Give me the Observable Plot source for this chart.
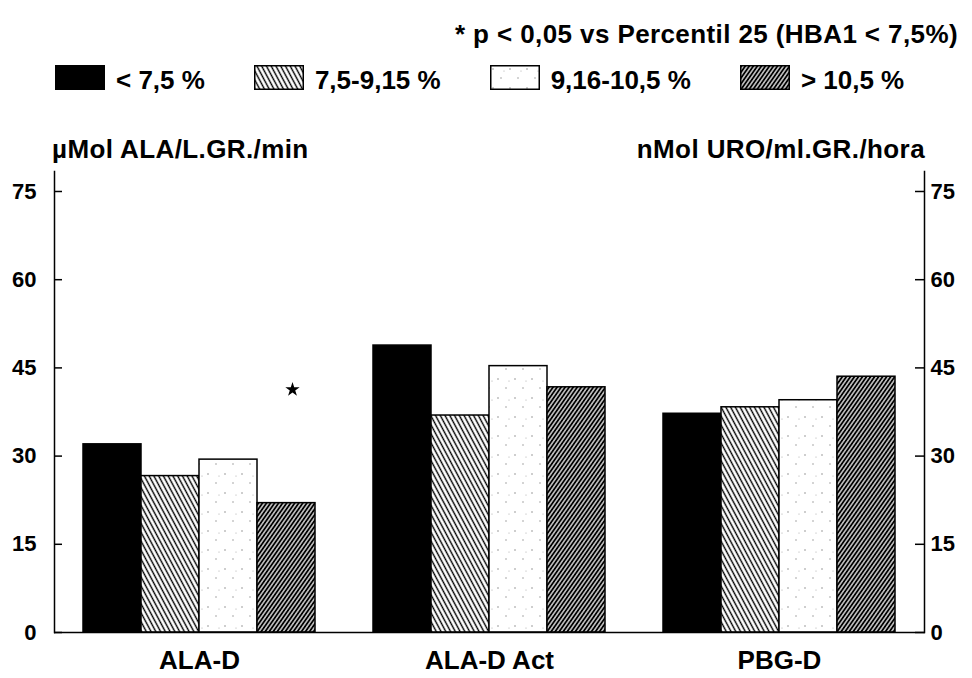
<!DOCTYPE html>
<html>
<head>
<meta charset="utf-8">
<script src="https://cdn.jsdelivr.net/npm/d3@7"></script>
<script src="https://cdn.jsdelivr.net/npm/@observablehq/plot@0.6"></script>
<style>
  html, body { margin: 0; padding: 0; background: #fff; }
  body { font-family: "Liberation Sans", Arial, sans-serif; font-weight: bold; color: #000; }
  #wrap { position: relative; width: 972px; height: 678px; overflow: hidden; }
  #note { position: absolute; right: 14px; top: 19px; font-size: 26px; letter-spacing: 0.4px; white-space: pre; }
  #legend { position: absolute; left: 55px; top: 65px; display: flex; gap: 49px; }
  #legend .item { display: flex; align-items: flex-start; }
  #legend svg { display: block; }
  #legend span { font-size: 26px; line-height: 25px; margin-left: 11px; position: relative; top: 3px; white-space: pre; }
  .ytitle { position: absolute; top: 134px; font-size: 26px; letter-spacing: 0.4px; white-space: pre; }
  #ytl { left: 52px; }
  #ytr { right: 47px; }
  #chart { position: absolute; left: 0; top: 166px; }
</style>
</head>
<body>
<svg width="0" height="0" style="position:absolute">
  <defs>
    <pattern id="p-light" width="4.2" height="10" patternUnits="userSpaceOnUse" patternTransform="rotate(-28)">
      <rect width="4.2" height="10" fill="#fff"/>
      <line x1="2.1" y1="0" x2="2.1" y2="10" stroke="#000" stroke-width="1.4"/>
    </pattern>
    <pattern id="p-dark" width="3.3" height="10" patternUnits="userSpaceOnUse" patternTransform="rotate(35)">
      <rect width="3.3" height="10" fill="#fff"/>
      <line x1="1.65" y1="0" x2="1.65" y2="10" stroke="#000" stroke-width="2.1"/>
    </pattern>
    <pattern id="p-dots" width="17" height="19" patternUnits="userSpaceOnUse">
      <rect width="17" height="19" fill="#fff"/>
      <circle cx="3" cy="4" r="0.7" fill="#777"/>
      <circle cx="11" cy="13" r="0.7" fill="#888"/>
      <circle cx="14" cy="6" r="0.5" fill="#999"/>
    </pattern>
  </defs>
</svg>
<div id="wrap">
  <div id="note"></div>
  <div id="legend"></div>
  <div class="ytitle" id="ytl"></div>
  <div class="ytitle" id="ytr"></div>
  <div id="chart"></div>
</div>
<script>
// ---- data ----
const groups = ["ALA-D", "ALA-D Act", "PBG-D"];
const series = ["< 7,5 %", "7,5-9,15 %", "9,16-10,5 %", "> 10,5 %"];
const alaD    = [32.0, 26.6, 29.4, 22.0];
const alaDAct = [48.8, 36.9, 45.3, 41.7];
const pbgD    = [37.2, 38.3, 39.5, 43.5];
const yTicks  = [0, 15, 30, 45, 60, 75];
const significant = [{group: "ALA-D", series: "> 10,5 %", value: 41.3}];
const noteText   = "* p < 0,05 vs Percentil 25 (HBA1 < 7,5%)";
const leftTitle  = "µMol ALA/L.GR./min";
const rightTitle = "nMol URO/ml.GR./hora";
const fills = ["#000", "url(#p-light)", "url(#p-dots)", "url(#p-dark)"];

const values = [alaD, alaDAct, pbgD];
const data = groups.flatMap((g, gi) => series.map((s, si) => ({group: g, series: s, value: values[gi][si]})));

// ---- header texts ----
document.getElementById("note").textContent = noteText;
document.getElementById("ytl").textContent = leftTitle;
document.getElementById("ytr").textContent = rightTitle;

// ---- legend ----
const legend = d3.select("#legend");
series.forEach((s, i) => {
  const item = legend.append("div").attr("class", "item");
  item.append("svg").attr("width", 50).attr("height", 25)
    .append("rect").attr("x", 0.75).attr("y", 0.75).attr("width", 48.5).attr("height", 23.5)
    .attr("fill", fills[i]).attr("stroke", "#000").attr("stroke-width", 1.5);
  item.append("span").text(s);
});

// ---- chart ----
const chart = Plot.plot({
  width: 972,
  height: 512,
  marginTop: 5,
  marginRight: 48,
  marginBottom: 46,
  marginLeft: 53,
  style: {fontFamily: '"Liberation Sans", Arial, sans-serif', fontWeight: "bold", color: "#000", background: "transparent", overflow: "visible"},
  fx: {domain: groups, padding: 0, label: null},
  x: {domain: series, paddingInner: 0, paddingOuter: 0.478, axis: null},
  y: {domain: [0, 78.4], label: null},
  color: {domain: series, range: fills},
  marks: [
    Plot.barY(data, {fx: "group", x: "series", y: "value", fill: "series", stroke: "#000", strokeWidth: 1.5}),
    Plot.ruleY([0], {stroke: "#000", strokeWidth: 1.5}),
    Plot.frame({anchor: "left", facetAnchor: "left", stroke: "#000", strokeWidth: 1.5}),
    Plot.frame({anchor: "right", facetAnchor: "right", stroke: "#000", strokeWidth: 1.5}),
    Plot.axisY({anchor: "left", ticks: yTicks, tickSize: -8, tickPadding: 26, fontSize: 22, label: null, strokeWidth: 1.5}),
    Plot.axisY({anchor: "right", ticks: yTicks, tickSize: -10, tickPadding: 16, fontSize: 22, label: null, strokeWidth: 1.5}),
    Plot.axisFx({anchor: "bottom", tickSize: 0, tickPadding: 18, fontSize: 26, label: null}),
    Plot.dot(significant, {fx: "group", x: "series", y: "value", symbol: "star", r: 4.5, fill: "#000", dx: 6})
  ]
});
document.getElementById("chart").appendChild(chart);
</script>
</body>
</html>
